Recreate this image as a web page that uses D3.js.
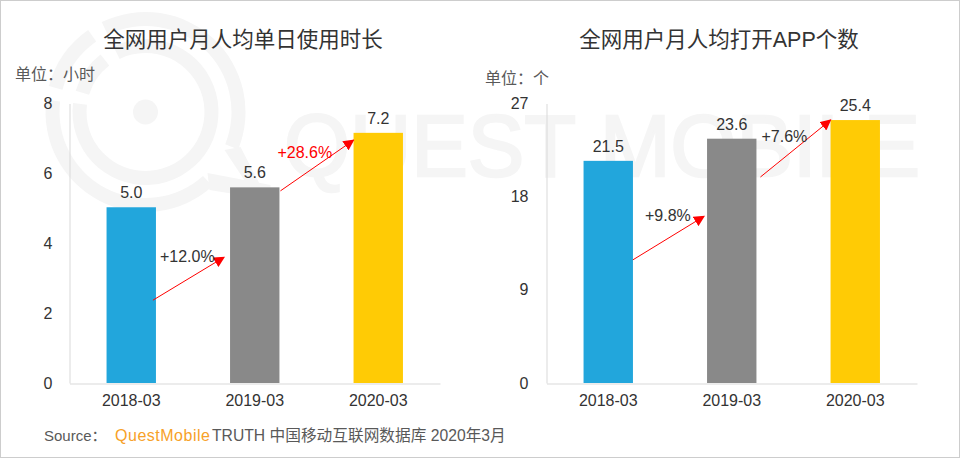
<!DOCTYPE html>
<html>
<head>
<meta charset="utf-8">
<script src="https://cdn.jsdelivr.net/npm/d3@7"></script>
<style>
html, body { margin: 0; padding: 0; background: #fff; }
text { font-family: "Liberation Sans", "Noto Sans CJK SC", sans-serif; }
</style>
</head>
<body>
<svg id="chart" width="960" height="458"></svg>
<script>
// Chart values
var categories = ["2018-03", "2019-03", "2020-03"];
var barColors = ["#22a6dc", "#898989", "#ffcb05"];

var hoursValues = [5.03, 5.6, 7.16];
var hoursTicks = [0, 2, 4, 6, 8];
// arrow start / end heights in hours, label is the growth
var hoursArrowFrom = [2.37, 5.5];
var hoursArrowTo = [3.6, 6.95];
var hoursGrowth = ["+12.0%", "+28.6%"];

var appValues = [21.46, 23.6, 25.4];
var appTicks = [0, 9, 18, 27];
var appArrowFrom = [11.9, 19.9];
var appArrowTo = [16.1, 25.4];
var appGrowth = ["+9.8%", "+7.6%"];

var svg = d3.select("#chart");

// Grey frame around the picture
svg.append("rect")
	.attr("x", 0.5).attr("y", 0.5)
	.attr("width", 959).attr("height", 457)
	.attr("fill", "#fff")
	.attr("stroke", "#cdcdcd");

// Watermark
function drawWatermark() {
	var mark = svg.append("g").attr("fill", "#f5f5f5");
	var logo = mark.append("g").attr("transform", "translate(145.5,112)");
	var rad = Math.PI / 180;

	logo.append("circle").attr("r", 12.5);

	// Rings are [inner, outer, start angle, end angle]
	var rings = [
		[86, 100, -26, 112],
		[86, 100, 138, 277],
		[86, 100, 285, 325],
		[59, 73, -26, 277],
		[59, 73, 287, 322]
	];
	rings.forEach(function(r) {
		logo.append("path").attr("d", d3.arc()({
			innerRadius: r[0],
			outerRadius: r[1],
			startAngle: r[2] * rad,
			endAngle: r[3] * rad
		}));
	});

	// Tail of the speech bubble, runs in behind the grey bar
	logo.append("path").attr("d", "M79,38L95,35L125,93L110,85Z");
	logo.append("path").attr("d", "M62,61L125,73L125,88L64,78Z");

	mark.selectAll(".wm")
		.data(["QUEST", "MOBILE"])
		.enter()
		.append("text")
		.attr("class", "wm")
		.attr("x", function(d, i) { return i === 0 ? 284 : 600; })
		.attr("y", 176)
		.attr("font-size", 88)
		.attr("stroke", "#f5f5f5")
		.attr("stroke-width", 2.5)
		.attr("textLength", function(d, i) { return i === 0 ? 292 : 320; })
		.attr("lengthAdjust", "spacingAndGlyphs")
		.text(function(d) { return d; });
}
drawWatermark();

// Arrow head
svg.append("defs").append("marker")
	.attr("id", "arrowHead")
	.attr("viewBox", "0 0 10 10")
	.attr("refX", 9).attr("refY", 5)
	.attr("markerUnits", "userSpaceOnUse")
	.attr("markerWidth", 11).attr("markerHeight", 11)
	.attr("orient", "auto")
	.append("path")
	.attr("d", "M0,0L10,5L0,10Z")
	.attr("fill", "#ff0000");

// One bar panel
function drawPanel(opt) {
	var x = d3.scaleBand()
		.domain(categories)
		.range([opt.left, opt.left + 370.5])
		.paddingInner(0.6)
		.paddingOuter(0.3);
	var y = d3.scaleLinear()
		.domain([0, opt.max])
		.range([383, 103.5]);

	var g = svg.append("g");

	// Title and unit
	g.append("text")
		.attr("x", opt.titleX).attr("y", 47)
		.attr("text-anchor", "middle")
		.attr("font-size", 21.5)
		.attr("fill", "#333")
		.text(opt.title);
	g.append("text")
		.attr("x", opt.unitX).attr("y", opt.unitY)
		.attr("font-size", 16)
		.attr("fill", "#595959")
		.text(opt.unit);

	// Y axis
	var yAxis = d3.axisLeft(y).tickValues(opt.ticks).tickSize(0).tickPadding(opt.tickPad);
	var yG = g.append("g")
		.attr("transform", "translate(" + opt.left + ",0)")
		.call(yAxis);
	yG.select(".domain").attr("stroke", "#d9d9d9");
	yG.selectAll("text")
		.attr("font-size", 16)
		.attr("fill", "#333");

	// X axis
	var xAxis = d3.axisBottom(x).tickSize(0).tickPadding(11);
	var xG = g.append("g")
		.attr("transform", "translate(0,383.5)")
		.call(xAxis);
	xG.select(".domain").attr("stroke", "#d9d9d9");
	xG.selectAll("text")
		.attr("font-size", 16)
		.attr("fill", "#333");

	// Bars
	g.selectAll(".bar")
		.data(opt.values)
		.enter()
		.append("rect")
		.attr("class", "bar")
		.attr("x", function(d, i) { return x(categories[i]); })
		.attr("y", function(d) { return y(d); })
		.attr("width", x.bandwidth())
		.attr("height", function(d) { return y(0) - y(d); })
		.attr("fill", function(d, i) { return barColors[i]; });

	// Value labels
	g.selectAll(".value")
		.data(opt.values)
		.enter()
		.append("text")
		.attr("class", "value")
		.attr("x", function(d, i) { return x(categories[i]) + x.bandwidth() / 2; })
		.attr("y", function(d) { return y(d) - 9; })
		.attr("text-anchor", "middle")
		.attr("font-size", 16)
		.attr("fill", "#333")
		.text(function(d) { return d.toFixed(1); });

	// Growth arrows
	opt.growth.forEach(function(label, i) {
		var x1 = x(categories[i]) + x.bandwidth() + opt.arrowGap[i];
		var x2 = x(categories[i + 1]) - opt.arrowEnd[i];
		var y1 = y(opt.arrowFrom[i]);
		var y2 = y(opt.arrowTo[i]);
		g.append("line")
			.attr("x1", x1).attr("y1", y1)
			.attr("x2", x2).attr("y2", y2)
			.attr("stroke", "#ff0000")
			.attr("stroke-width", 1)
			.attr("marker-end", "url(#arrowHead)");
		g.append("text")
			.attr("x", x1 + opt.labelDx[i])
			.attr("y", y2 + opt.labelDy[i])
			.attr("font-size", 16)
			.attr("fill", opt.labelColor[i])
			.text(label);
	});
}

drawPanel({
	left: 69.5, max: 8, ticks: hoursTicks, values: hoursValues,
	title: "全网用户月人均单日使用时长", titleX: 243,
	unit: "单位：小时", unitX: 15, unitY: 80, tickPad: 17,
	growth: hoursGrowth, arrowFrom: hoursArrowFrom, arrowTo: hoursArrowTo,
	arrowGap: [-3, 1], arrowEnd: [6, 0],
	labelDx: [7, -3], labelDy: [5, 18],
	labelColor: ["#333", "#ff0000"]
});
drawPanel({
	left: 546.5, max: 27, ticks: appTicks, values: appValues,
	title: "全网用户月人均打开APP个数", titleX: 719,
	unit: "单位：个", unitX: 485, unitY: 84, tickPad: 18,
	growth: appGrowth, arrowFrom: appArrowFrom, arrowTo: appArrowTo,
	arrowGap: [0, 4], arrowEnd: [3, 0],
	labelDx: [12, 1], labelDy: [5, 22],
	labelColor: ["#333", "#333"]
});

// Source line
var source = svg.append("text")
	.attr("x", 44).attr("y", 441)
	.attr("font-size", 15)
	.attr("fill", "#595959");
source.append("tspan").text("Source：");
source.append("tspan").attr("x", 115).attr("fill", "#f7a128").attr("font-size", 16)
	.attr("textLength", 95).text("QuestMobile");
source.append("tspan").attr("x", 212).attr("font-size", 15.7).text("TRUTH 中国移动互联网数据库 2020年3月");
</script>
</body>
</html>
